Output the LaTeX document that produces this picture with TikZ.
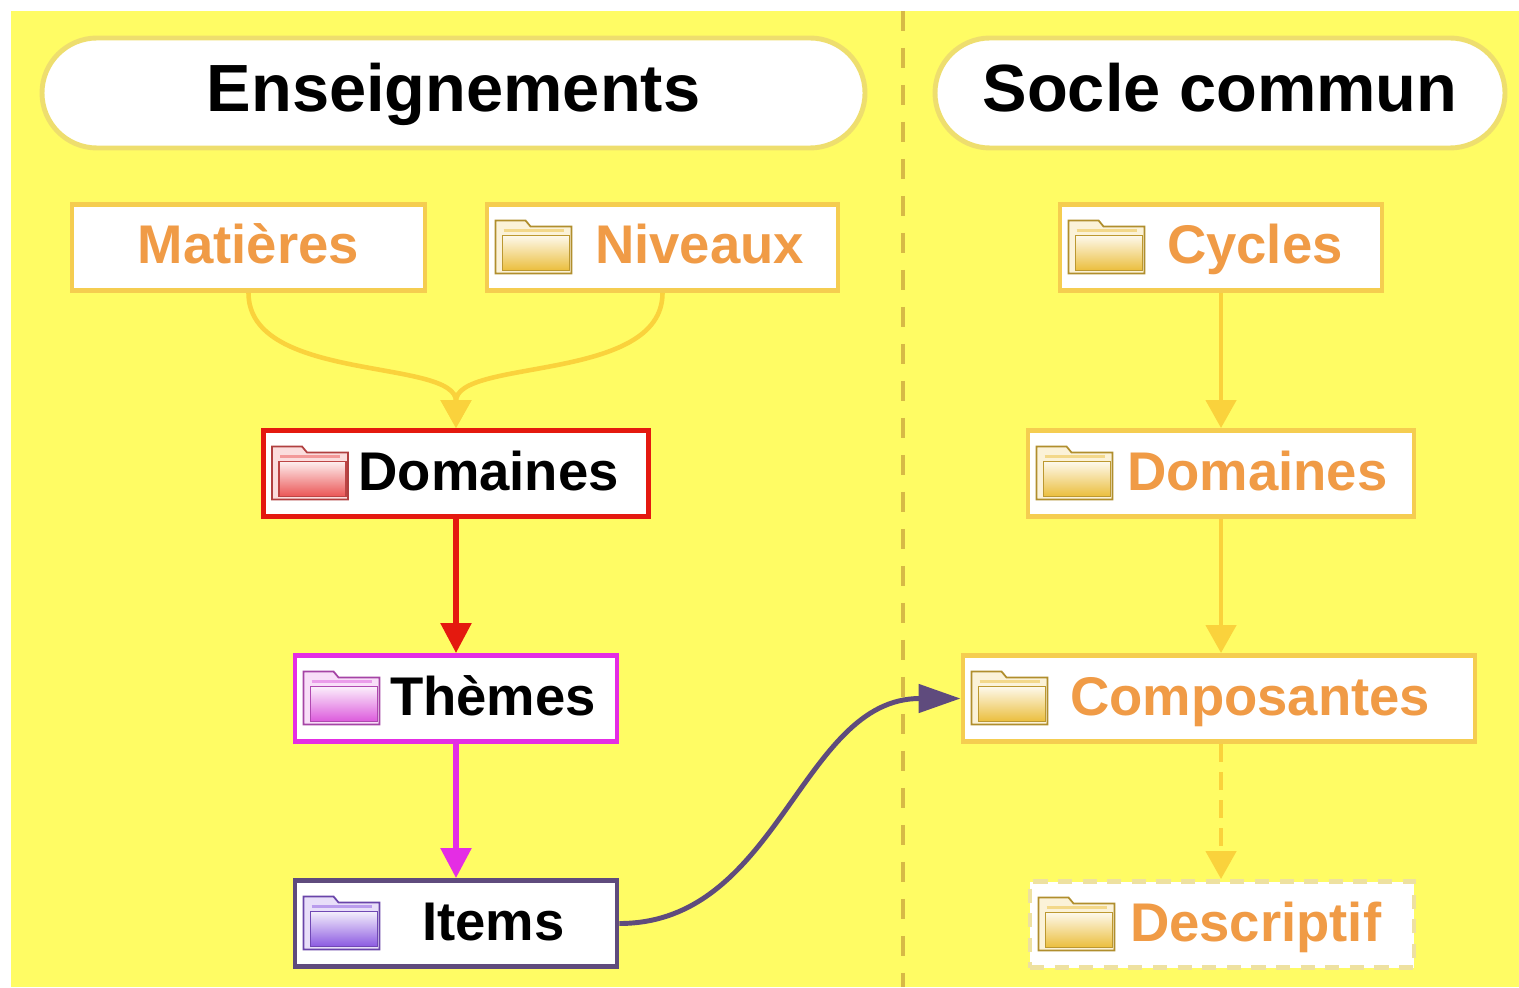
\documentclass[tikz,border=0pt]{standalone}
\usepackage{fontspec}
\setmainfont{Liberation Sans}
\usepackage{tikz}
\usetikzlibrary{arrows.meta,shapes,positioning,calc}

\definecolor{bgyel}{RGB}{255,252,100}
\definecolor{pillline}{RGB}{238,222,110}
\definecolor{boxline}{RGB}{245,205,80}
\definecolor{boxtext}{RGB}{240,155,70}
\definecolor{linkyel}{RGB}{250,210,60}
\definecolor{sepline}{RGB}{215,185,70}
\definecolor{dashline}{RGB}{238,225,160}
\definecolor{domred}{RGB}{228,25,15}
\definecolor{thmag}{RGB}{228,45,228}
\definecolor{itpurple}{RGB}{95,75,125}
\definecolor{icred}{RGB}{235,85,85}
\definecolor{icmag}{RGB}{220,90,220}
\definecolor{icpur}{RGB}{140,90,225}
\definecolor{icyel}{RGB}{235,190,60}

\tikzset{pill/.style={draw=pillline, line width=1.4pt, fill=white, rounded corners=0.55cm,
                      minimum height=1.1cm, text height=0.5cm, text depth=0.12cm,
                      font=\fontsize{19}{22}\selectfont\bfseries}}
\tikzset{tagbox/.style={draw=#1, line width=1.4pt, fill=white, inner sep=0pt,
                        minimum height=0.86cm, text height=0.42cm, text depth=0.09cm,
                        font=\fontsize{15.5}{18}\selectfont\bfseries}}
\tikzset{softbox/.style={tagbox=boxline, text=boxtext}}
\tikzset{link/.style={line width=1.3pt, -{Triangle[length=0.28cm,width=0.3cm]}}}

% box text, shifted right of the folder
\newcommand{\inbox}[3]{\makebox[#1cm][l]{\hspace*{#2cm}#3}}
% folder icon at the left of a box
\newcommand{\foldericon}[2]{%
\begin{scope}[shift={($(#1.west)+(0.49,0)$)}]
\filldraw[draw=#2!75!black, fill=#2!20, line width=0.5pt] (-0.38,-0.26) -- (-0.38,0.27) -- (-0.08,0.27) -- (-0.03,0.21) -- (0.38,0.21) -- (0.38,-0.26) -- cycle;
\shadedraw[top color=#2!10, bottom color=#2, draw=#2!80!black, line width=0.4pt] (-0.31,-0.23) rectangle (0.36,0.12);
\draw[#2!60, line width=0.6pt] (-0.3,0.17) -- (0.3,0.17);
\end{scope}}

\begin{document}
\begin{tikzpicture}
\useasboundingbox (0,0) rectangle (15.19,9.87);
\fill[bgyel] (0.11,0) rectangle (15.19,9.76);

% separator
\draw[sepline, line width=0.9pt, dash pattern=on 0.2cm off 0.17cm] (9.03,9.76) -- (9.03,0);

\node[pill, minimum width=8.23cm] (ens) at (4.535,8.94) {Enseignements};
\node[pill, minimum width=5.70cm] (socle) at (12.20,8.94) {Socle commun};

% left column
\node[softbox, minimum width=3.53cm] (mat) at (2.485,7.395) {Matières};
\node[softbox] (niv) at (6.625,7.395) {\inbox{3.51}{1.08}{Niveaux}};
\node[tagbox=domred] (domL) at (4.56,5.135) {\inbox{3.85}{0.95}{Domaines}};
\node[tagbox=thmag] (them) at (4.56,2.885) {\inbox{3.22}{0.95}{Thèmes}};
\node[tagbox=itpurple] (items) at (4.56,0.635) {\inbox{3.22}{1.27}{Items}};

% right column
\node[softbox] (cyc) at (12.21,7.395) {\inbox{3.22}{1.07}{Cycles}};
\node[softbox] (domR) at (12.21,5.135) {\inbox{3.86}{0.99}{Domaines}};
\node[softbox] (comp) at (12.19,2.885) {\inbox{5.12}{1.07}{Composantes}};
\node[softbox, draw=dashline, dash pattern=on 4pt off 3pt] (desc) at (12.22,0.625) {\inbox{3.84}{1.00}{Descriptif}};

\foreach \n/\c in {niv/icyel, cyc/icyel, domR/icyel, comp/icyel, desc/icyel, domL/icred, them/icmag, items/icpur}
{
\foldericon{\n}{\c}
}

\draw[link, linkyel] (mat.south) .. controls +(0,-0.9) and +(0,0.7) .. (domL.north);
\draw[link, linkyel] (niv.south) .. controls +(0,-0.9) and +(0,0.7) .. (domL.north);
\draw[link, domred, line width=1.6pt, -{Triangle[length=0.3cm,width=0.3cm]}] (domL.south) -- (them.north);
\draw[link, thmag, line width=1.6pt, -{Triangle[length=0.3cm,width=0.3cm]}] (them.south) -- (items.north);
\draw[link, itpurple, line width=1.4pt, -{Triangle[length=0.42cm,width=0.28cm]}] (items.east) to[out=0,in=180] (comp.west);

\draw[link, linkyel] (cyc.south) -- (domR.north);
\draw[link, linkyel] (domR.south) -- (domR.south |- comp.north);
\draw[link, linkyel, dash pattern=on 5pt off 3pt] (domR.south |- comp.south) -- (domR.south |- desc.north);
\end{tikzpicture}
\end{document}
